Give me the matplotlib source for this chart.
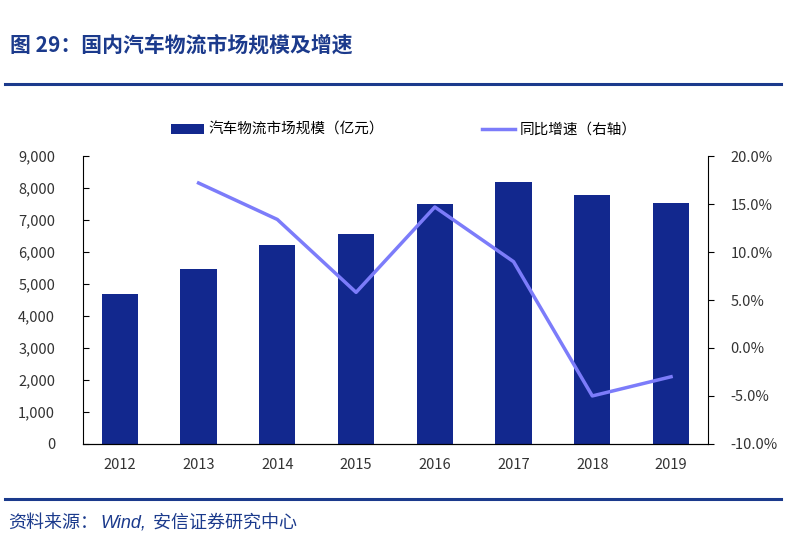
import matplotlib
matplotlib.use("Agg")
import matplotlib.pyplot as plt
from matplotlib.ticker import FuncFormatter

plt.rcParams["font.family"] = ["Noto Sans CJK SC", "DejaVu Sans"]

# Data

years = ["2012", "2013", "2014", "2015", "2016", "2017", "2018", "2019"]
market_size = [4690, 5470, 6220, 6560, 7500, 8190, 7780, 7530]
growth_years = ["2013", "2014", "2015", "2016", "2017", "2018", "2019"]
growth_rate = [17.2, 13.4, 5.8, 14.7, 9.0, -5.0, -3.0]

BAR_COLOR = "#12288E"
LINE_COLOR = "#7C7CFA"
TITLE_COLOR = "#1B3A8C"
TEXT_COLOR = "#333333"

fig = plt.figure(figsize=(8.12, 5.46), dpi=100)

# Title and frame lines

fig.text(0.012, 0.918, "图 29：国内汽车物流市场规模及增速",
         fontsize=15, fontweight="bold", color=TITLE_COLOR, va="center")
fig.add_artist(plt.Line2D([0.006, 0.962], [0.846, 0.846],
                          color=TITLE_COLOR, linewidth=2.2))
fig.add_artist(plt.Line2D([0.006, 0.962], [0.086, 0.086],
                          color=TITLE_COLOR, linewidth=2.2))

# Source line, pieces placed one after another
renderer = fig.canvas.get_renderer()
pieces = [
    ("资料来源：", {}),
    ("Wind,", {"style": "italic", "family": ["Liberation Sans", "DejaVu Sans"]}),
    (" 安信证券研究中心", {}),
]
x_pos = 0.010
for txt, kw in pieces:
    t = fig.text(x_pos, 0.043, txt, fontsize=13, color=TITLE_COLOR,
                 va="center", **kw)
    bb = t.get_window_extent(renderer=renderer)
    x_pos += bb.width / fig.bbox.width + 0.003

# Bars

ax = fig.add_axes([0.102, 0.187, 0.770, 0.527])
x = list(range(len(years)))
ax.bar(x, market_size, width=0.46, color=BAR_COLOR,
       label="汽车物流市场规模（亿元）", zorder=2)

ax.set_xlim(-0.47, len(years) - 0.53)
ax.set_ylim(0, 9000)
ax.set_yticks(range(0, 9001, 1000))
ax.yaxis.set_major_formatter(FuncFormatter(lambda v, p: f"{v:,.0f}"))
ax.set_xticks(x)
ax.set_xticklabels(years)
ax.tick_params(axis="y", direction="in", length=4, labelsize=10.5,
               labelcolor=TEXT_COLOR, pad=20)
ax.tick_params(axis="x", length=0, labelsize=10.5, labelcolor=TEXT_COLOR,
               pad=10)
ax.spines["top"].set_visible(False)
ax.spines["right"].set_visible(False)

# Growth line

ax2 = ax.twinx()
gx = [years.index(y) for y in growth_years]
ax2.plot(gx, growth_rate, color=LINE_COLOR, linewidth=2.5,
         label="同比增速（右轴）", zorder=3)
ax2.set_ylim(-10, 20)
ax2.set_yticks(range(-10, 21, 5))
ax2.yaxis.set_major_formatter(FuncFormatter(lambda v, p: f"{v:.1f}%"))
ax2.tick_params(axis="y", direction="out", length=4, labelsize=10.5,
                labelcolor=TEXT_COLOR, pad=12)
ax2.spines["top"].set_visible(False)
ax2.spines["left"].set_visible(False)

# Legend

h1, l1 = ax.get_legend_handles_labels()
h2, l2 = ax2.get_legend_handles_labels()
fig.legend(h1 + h2, l1 + l2, loc="center", bbox_to_anchor=(0.497, 0.762),
           ncol=2, frameon=False, fontsize=10.5, columnspacing=6.7,
           handlelength=2.3, handletextpad=0.3)

plt.savefig("out.png", dpi=100)
